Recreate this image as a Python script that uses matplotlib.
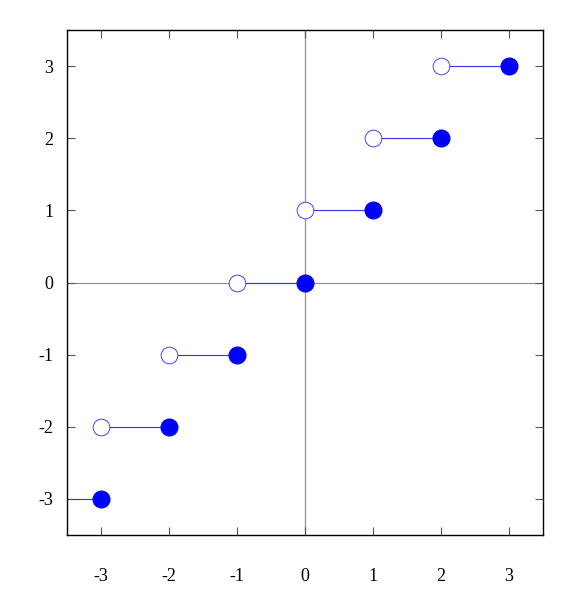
import numpy as np
import matplotlib.pyplot as plt

plt.rcParams['font.family'] = ['Liberation Serif', 'DejaVu Serif']

# ceiling function steps: open point at left end, filled at right end
left_x = [-3, -2, -1, 0, 1, 2]
right_x = [-2, -1, 0, 1, 2, 3]
step_y = [-2, -1, 0, 1, 2, 3]
ticks = [-3, -2, -1, 0, 1, 2, 3]

fig = plt.figure(figsize=(5.74, 5.90), dpi=100)
ax = fig.add_axes([0.1167, 0.0932, 0.8293, 0.8559])

ax.axhline(0, color='#888888', lw=0.8, zorder=1)
ax.axvline(0, color='#999999', lw=1.0, zorder=1)

# first piece coming in from the left edge
ax.plot([-3.5, -3], [-3, -3], color='#3333ee', lw=0.8, zorder=2)
for x0, x1, y in zip(left_x, right_x, step_y):
    ax.plot([x0, x1], [y, y], color='#3333ee', lw=0.8, zorder=2)

ax.plot(left_x, step_y, 'o', ms=12, mfc='white', mec='#4444ff', mew=0.7, zorder=3, clip_on=False)
ax.plot([-3] + right_x, [-3] + step_y, 'o', ms=12, mfc='blue', mec='blue', zorder=3, clip_on=False)

ax.set_xlim(-3.5, 3.5)
ax.set_ylim(-3.5, 3.5)
ax.set_xticks(ticks)
ax.set_yticks(ticks)
ax.set_xticklabels([str(t) for t in ticks])
ax.set_yticklabels([str(t) for t in ticks])
ax.tick_params(direction='in', length=6, width=0.8, color='#555555',
               top=True, right=True, labelsize=13)
ax.tick_params(axis='x', pad=24)
ax.tick_params(axis='y', pad=10)
for s in ax.spines.values():
    s.set_linewidth(1.0)

fig.savefig('out.png', dpi=100)
